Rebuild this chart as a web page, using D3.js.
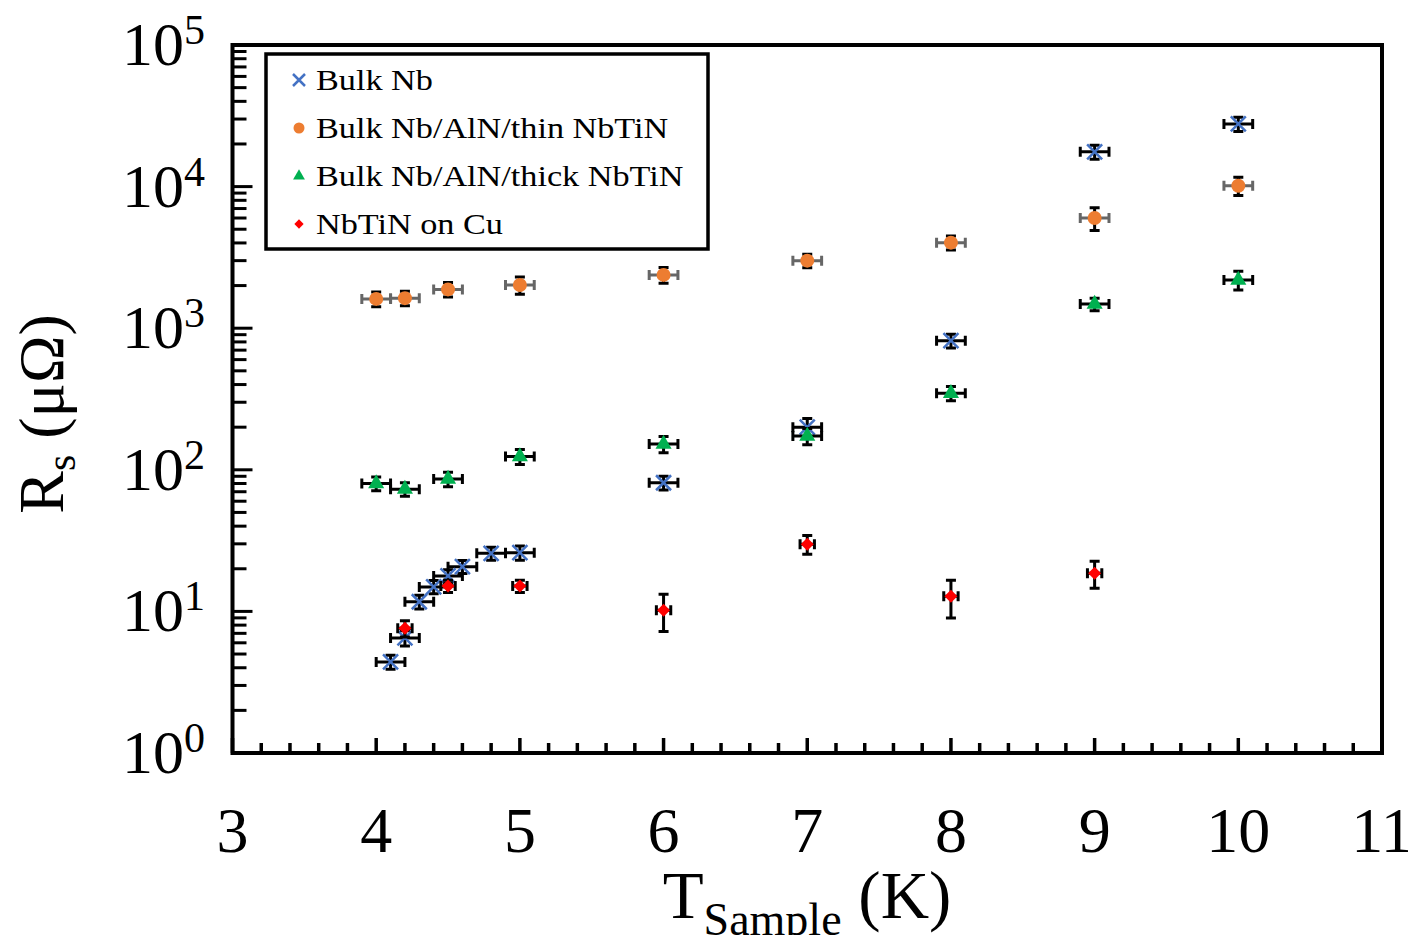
<!DOCTYPE html>
<html>
<head>
<meta charset="utf-8">
<script src="https://cdn.jsdelivr.net/npm/d3@7"></script>
<style>
  body { margin: 0; background: #fff; }
  svg text { font-family: "Liberation Serif", Tinos, "Times New Roman", Times, serif; }
</style>
</head>
<body>
<div id="my_dataviz"></div>
<script>
// ---- data ----
const seriesNames = ["Bulk Nb", "Bulk Nb/AlN/thin NbTiN", "Bulk Nb/AlN/thick NbTiN", "NbTiN on Cu"];
const seriesColors = ["#4472C4", "#ED7D31", "#00B050", "#FF0000"];
const seriesShapes = ["cross", "circle", "triangle", "diamond"];
const seriesXErr = [0.1, 0.1, 0.1, 0.05];

const nbT = [4.1, 4.2, 4.3, 4.4, 4.5, 4.6, 4.8, 5, 6, 7, 8, 9, 10];
const nbRs = [4.4, 6.5, 11.7, 14.9, 17.8, 20.7, 25.7, 26.0, 81, 200, 816, 17600, 27700];
const nbErr = [0.5, 0.8, 1.3, 1.6, 1.9, 2.2, 2.7, 3.0, 9, 30, 90, 2000, 3200];

const thinT = [4, 4.2, 4.5, 5, 6, 7, 8, 9, 10];
const thinRs = [1610, 1630, 1880, 2020, 2380, 3000, 4020, 6000, 10150];
const thinErr = [190, 190, 220, 280, 300, 330, 450, 1100, 1500];

const thickT = [4, 4.2, 4.5, 5, 6, 7, 8, 9, 10];
const thickRs = [80, 73, 86, 124, 152, 173, 347, 1480, 2190];
const thickErr = [9, 8, 10, 15, 20, 23, 40, 150, 330];

const cuT = [4.2, 4.5, 5, 6, 7, 8, 9];
const cuRs = [7.6, 15.1, 15.1, 10.2, 29.8, 12.8, 18.6];
const cuErr = [1.0, 1.5, 1.5, 3.0, 4.5, 3.8, 4.0];

const xTicks = [3, 4, 5, 6, 7, 8, 9, 10, 11];
const yExponents = [0, 1, 2, 3, 4, 5];

const serif = '"Liberation Serif", Tinos, "Times New Roman", Times, serif';

function main() {
	const W = 1408, H = 935;
	const plot = { left: 232.5, right: 1382, top: 45, bottom: 753 };

	const svg = d3
		.select("#my_dataviz")
		.append("svg")
		.attr("width", W)
		.attr("height", H)
		.attr("font-family", serif);

	const x = d3.scaleLinear().domain([3, 11]).range([plot.left, plot.right]);
	const y = d3.scaleLog().domain([1, 1e5]).range([plot.bottom, plot.top]);

	// x ticks (inside), major every 1, minor every 0.2
	const xMinor = d3.range(3, 11.001, 0.2).map((v) => +v.toFixed(1));
	svg.append("g")
		.selectAll("line")
		.data(xMinor)
		.join("line")
		.attr("x1", (d) => x(d))
		.attr("x2", (d) => x(d))
		.attr("y1", plot.bottom)
		.attr("y2", (d) => plot.bottom - (Math.abs(d - Math.round(d)) < 1e-6 ? 15 : 10))
		.attr("stroke", "black")
		.attr("stroke-width", 3.5);

	// y ticks (inside), decades major, 2..9 minor
	const yMinor = [];
	for (let e = 0; e < 5; e++) {
		for (let m = 1; m < 10; m++) yMinor.push(m * Math.pow(10, e));
	}
	yMinor.push(1e5);
	svg.append("g")
		.selectAll("line")
		.data(yMinor)
		.join("line")
		.attr("x1", plot.left)
		.attr("x2", (d) => plot.left + (Math.abs(Math.log10(d) - Math.round(Math.log10(d))) < 1e-9 ? 20 : 14))
		.attr("y1", (d) => y(d))
		.attr("y2", (d) => y(d))
		.attr("stroke", "black")
		.attr("stroke-width", 3);

	// frame
	svg.append("rect")
		.attr("x", plot.left)
		.attr("y", plot.top)
		.attr("width", plot.right - plot.left)
		.attr("height", plot.bottom - plot.top)
		.attr("fill", "none")
		.attr("stroke", "black")
		.attr("stroke-width", 4);

	// x tick labels
	svg.append("g")
		.selectAll("text")
		.data(xTicks)
		.join("text")
		.attr("x", (d) => x(d))
		.attr("y", plot.bottom + 99)
		.attr("text-anchor", "middle")
		.attr("font-family", serif)
		.style("font-size", "64px")
		.text((d) => d);

	// y tick labels 10^n
	const yl = svg.append("g")
		.selectAll("text")
		.data(yExponents)
		.join("text")
		.attr("x", 122)
		.attr("y", (d) => y(Math.pow(10, d)) + 20)
		.attr("font-family", serif)
		.style("font-size", "62px");
	yl.append("tspan").text("10");
	yl.append("tspan")
		.attr("dy", -21)
		.style("font-size", "42px")
		.text((d) => d);

	// axis titles
	const xt = svg.append("text")
		.attr("x", 807)
		.attr("y", 918)
		.attr("text-anchor", "middle")
		.attr("font-family", serif)
		.style("font-size", "67px");
	xt.append("tspan").text("T");
	xt.append("tspan").attr("dy", 17).style("font-size", "46px").text("Sample");
	xt.append("tspan").attr("dy", -17).text(" (K)");

	const ytl = svg.append("text")
		.attr("transform", "translate(63,414) rotate(-90)")
		.attr("text-anchor", "middle")
		.attr("font-family", serif)
		.style("font-size", "64px");
	ytl.append("tspan").text("R");
	ytl.append("tspan").attr("dy", 12).style("font-size", "42px").text("s");
	ytl.append("tspan").attr("dy", -12).text(" (μΩ)");

	// marker drawing helper
	function drawMarker(g, shape, color, size) {
		if (shape === "cross") {
			const s = size * 0.5;
			g.append("path")
				.attr("d", `M${-s},${-s}L${s},${s}M${-s},${s}L${s},${-s}`)
				.attr("stroke", color)
				.attr("stroke-width", 2.5)
				.attr("fill", "none");
		} else if (shape === "circle") {
			g.append("circle").attr("r", size * 0.5).attr("fill", color);
		} else if (shape === "triangle") {
			g.append("path")
				.attr("d", d3.symbol().type(d3.symbolTriangle).size(size * size * 0.5)())
				.attr("fill", color);
		} else {
			g.append("path")
				.attr("d", d3.symbol().type(d3.symbolDiamond2).size(size * size * 0.55)())
				.attr("fill", color);
		}
	}

	const seriesData = [
		[nbT, nbRs, nbErr],
		[thinT, thinRs, thinErr],
		[thickT, thickRs, thickErr],
		[cuT, cuRs, cuErr],
	];
	const markerSizes = [15, 14, 15, 14];

	seriesData.forEach(([ts, rs, es], si) => {
		const pts = ts.map((t, i) => ({ t: t, r: rs[i], e: es[i] }));
		const g = svg.append("g").attr("class", "series" + si);
		const xe = seriesXErr[si];
		const hColor = si === 1 ? "#666" : "black";
		const cap = 5;
		pts.forEach((p) => {
			const cx = x(p.t), cy = y(p.r);
			const x0 = x(p.t - xe), x1 = x(p.t + xe);
			const y0 = y(p.r - p.e), y1 = y(p.r + p.e);
			// horizontal error bar
			g.append("path")
				.attr("d", `M${x0},${cy}L${x1},${cy}M${x0},${cy - cap}L${x0},${cy + cap}M${x1},${cy - cap}L${x1},${cy + cap}`)
				.attr("stroke", hColor)
				.attr("stroke-width", 3)
				.attr("fill", "none");
			// vertical error bar
			g.append("path")
				.attr("d", `M${cx},${y0}L${cx},${y1}M${cx - cap},${y0}L${cx + cap},${y0}M${cx - cap},${y1}L${cx + cap},${y1}`)
				.attr("stroke", "black")
				.attr("stroke-width", 3)
				.attr("fill", "none");
		});
		pts.forEach((p) => {
			const mg = g.append("g").attr("transform", `translate(${x(p.t)},${y(p.r)})`);
			drawMarker(mg, seriesShapes[si], seriesColors[si], markerSizes[si]);
		});
	});

	// legend
	const leg = svg.append("g");
	leg.append("rect")
		.attr("x", 266)
		.attr("y", 54)
		.attr("width", 442)
		.attr("height", 195)
		.attr("fill", "white")
		.attr("stroke", "black")
		.attr("stroke-width", 3.5);
	seriesNames.forEach((name, i) => {
		const cy = 80 + i * 48;
		const mg = leg.append("g").attr("transform", `translate(299,${cy})`);
		drawMarker(mg, seriesShapes[i], seriesColors[i], [12, 11, 11, 10][i]);
		leg.append("text")
			.attr("transform", `translate(316,${cy + 10}) scale(1.18,1)`)
			.attr("font-family", serif)
			.style("font-size", "29px")
			.text(name);
	});
}

main();
</script>
</body>
</html>
